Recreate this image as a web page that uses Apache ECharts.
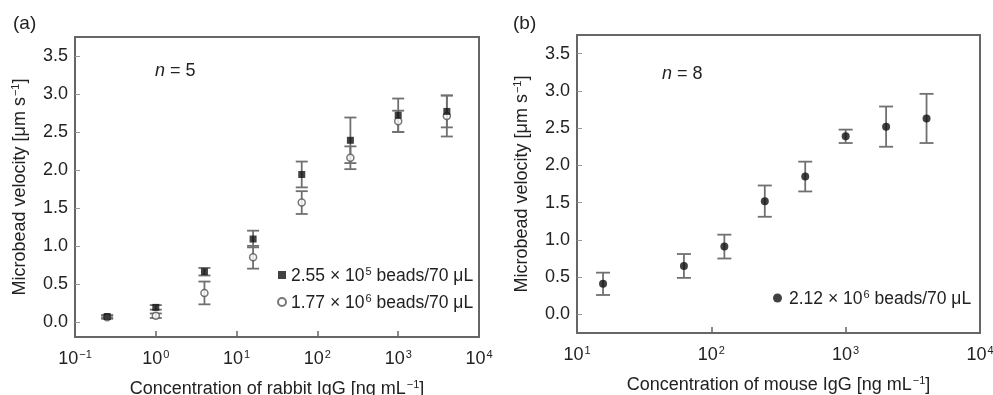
<!DOCTYPE html>
<html>
<head>
<meta charset="utf-8">
<script src="https://cdn.jsdelivr.net/npm/echarts@6/dist/echarts.min.js"></script>
<style>
html,body{margin:0;padding:0;background:#fff;}
#c{width:993px;height:395px;}
</style>
</head>
<body>
<div id="c"></div>
<script>
// ---- data ----
var rabbitConc = [0.25, 1, 4, 16, 64, 256, 1000, 4000];
var rabbitLowV = [0.07, 0.19, 0.66, 1.09, 1.94, 2.39, 2.72, 2.77];   // 2.55e5 beads
var rabbitLowErr = [0.02, 0.03, 0.05, 0.11, 0.17, 0.30, 0.22, 0.21];
var rabbitHighV = [0.06, 0.08, 0.38, 0.85, 1.57, 2.16, 2.64, 2.71];  // 1.77e6 beads
var rabbitHighErr = [0.02, 0.03, 0.15, 0.15, 0.15, 0.15, 0.14, 0.27];
var mouseConc = [15.625, 62.5, 125, 250, 500, 1000, 2000, 4000];
var mouseV = [0.41, 0.65, 0.91, 1.52, 1.85, 2.39, 2.52, 2.63];
var mouseErr = [0.15, 0.16, 0.16, 0.21, 0.20, 0.09, 0.27, 0.33];
var yTicks = [0, 0.5, 1.0, 1.5, 2.0, 2.5, 3.0, 3.5];
var xTicksA = [0.1, 1, 10, 100, 1000, 10000];
var xTicksB = [10, 100, 1000, 10000];
var nameLow = '2.55 × 10^5 beads/70 μL';
var nameHigh = '1.77 × 10^6 beads/70 μL';
var nameMouse = '2.12 × 10^6 beads/70 μL';

var FONT = 'Liberation Sans, Arial, Helvetica, sans-serif';
var FS = 18;
function richFor(fs) {
  return {
    b: {fontSize: fs, fontFamily: FONT, color: '#222', lineHeight: 20, verticalAlign: 'bottom'},
    sup: {fontSize: 11, fontFamily: FONT, color: '#222', lineHeight: 20, verticalAlign: 'bottom', padding: [0, 0, 8, 1]}
  };
}
var supRich = richFor(FS);
var legRich = richFor(17.5);

function pts(xs, ys) { return xs.map(function (x, i) { return [x, ys[i]]; }); }
function errs(xs, ys, es) { return xs.map(function (x, i) { return [x, ys[i] - es[i], ys[i] + es[i]]; }); }
function logLabel(v) {
  var e = Math.round(Math.log10(v));
  var s = e < 0 ? '−' + (-e) : '' + e;
  return '{b|10}{sup|' + s + '}';
}
function legendFmt(name) {
  var m = name.split('^');
  var rest = m[1];
  return '{b|' + m[0] + '}{sup|' + rest.charAt(0) + '}{b|' + rest.slice(1) + '}';
}
function errRender(cap) {
  return function (params, api) {
    var x = api.value(0);
    var lo = api.coord([x, api.value(1)]);
    var hi = api.coord([x, api.value(2)]);
    var st = {stroke: '#707070', lineWidth: 1.8};
    return {
      type: 'group',
      children: [
        {type: 'line', shape: {x1: lo[0], y1: lo[1], x2: hi[0], y2: hi[1]}, style: st},
        {type: 'line', shape: {x1: lo[0] - cap, y1: lo[1], x2: lo[0] + cap, y2: lo[1]}, style: st},
        {type: 'line', shape: {x1: hi[0] - cap, y1: hi[1], x2: hi[0] + cap, y2: hi[1]}, style: st}
      ]
    };
  };
}

function xAxis(grid, min, max, ticks, title) {
  return {
    type: 'log', logBase: 10, gridIndex: grid, min: min, max: max,
    axisLine: {show: false, onZero: false},
    axisTick: {show: true, inside: true, length: 6, lineStyle: {color: '#666', width: 1.5},
               customValues: ticks.slice(1, ticks.length - 1)},
    axisLabel: {margin: 11, formatter: logLabel, rich: supRich, customValues: ticks},
    splitLine: {show: false},
    name: title, nameLocation: 'middle', nameGap: 41,
    nameTextStyle: {fontSize: FS, fontFamily: FONT, color: '#222', rich: supRich}
  };
}
function yAxis(grid, min, max) {
  return {
    type: 'value', gridIndex: grid, min: min, max: max,
    axisLine: {show: false},
    axisTick: {show: true, inside: true, length: 5, lineStyle: {color: '#999', width: 1}, customValues: yTicks},
    axisLabel: {margin: 7, fontSize: FS, fontFamily: FONT, color: '#222',
                formatter: function (v) { return v.toFixed(1); }, customValues: yTicks},
    splitLine: {show: false},
    name: '{b|Microbead velocity [μm s}{sup|−1}{b|]}', nameLocation: 'middle', nameGap: 46,
    nameTextStyle: {fontSize: FS, fontFamily: FONT, color: '#222', rich: supRich}
  };
}

var chart = echarts.init(document.getElementById('c'), null, {renderer: 'canvas'});
chart.setOption({
  animation: false,
  backgroundColor: '#fff',
  grid: [
    {left: 75, top: 37, width: 404, height: 300, outerBoundsMode: 'none', containLabel: false,
     show: true, borderColor: '#666', borderWidth: 2, backgroundColor: 'transparent'},
    {left: 577, top: 35, width: 403, height: 298, outerBoundsMode: 'none', containLabel: false,
     show: true, borderColor: '#666', borderWidth: 2, backgroundColor: 'transparent'}
  ],
  xAxis: [
    xAxis(0, 0.1, 10000, xTicksA, '{b|Concentration of rabbit IgG [ng mL}{sup|−1}{b|]}'),
    xAxis(1, 10, 10000, xTicksB, '{b|Concentration of mouse IgG [ng mL}{sup|−1}{b|]}')
  ],
  yAxis: [yAxis(0, -0.2, 3.75), yAxis(1, -0.25, 3.75)],
  legend: [
    {data: [nameLow, nameHigh], orient: 'vertical', left: 272, top: 261, itemWidth: 8, itemHeight: 8, itemGap: 8,
     formatter: legendFmt, textStyle: {rich: legRich}, selectedMode: false},
    {data: [nameMouse], orient: 'vertical', left: 768, top: 284, itemWidth: 9, itemHeight: 9,
     formatter: legendFmt, textStyle: {rich: legRich, padding: [0, 0, 0, 2]}, selectedMode: false}
  ],
  graphic: [
    {type: 'text', left: 13, top: 14, style: {text: '(a)', fontSize: 19, fontFamily: FONT, fill: '#222'}},
    {type: 'text', left: 513, top: 14, style: {text: '(b)', fontSize: 19, fontFamily: FONT, fill: '#222'}},
    {type: 'text', left: 155, top: 62, style: {text: '{i|n} = 5', fontSize: 18, fontFamily: FONT, fill: '#222',
      rich: {i: {fontStyle: 'italic', fontSize: 18, fontFamily: FONT, fill: '#222'}}}},
    {type: 'text', left: 662, top: 65, style: {text: '{i|n} = 8', fontSize: 18, fontFamily: FONT, fill: '#222',
      rich: {i: {fontStyle: 'italic', fontSize: 18, fontFamily: FONT, fill: '#222'}}}}
  ],
  series: [
    {type: 'custom', xAxisIndex: 0, yAxisIndex: 0, renderItem: errRender(6), data: errs(rabbitConc, rabbitHighV, rabbitHighErr), z: 2},
    {type: 'custom', xAxisIndex: 0, yAxisIndex: 0, renderItem: errRender(6), data: errs(rabbitConc, rabbitLowV, rabbitLowErr), z: 2},
    {type: 'scatter', name: nameHigh, xAxisIndex: 0, yAxisIndex: 0, data: pts(rabbitConc, rabbitHighV),
     symbol: 'circle', symbolSize: 7, itemStyle: {color: '#fff', borderColor: '#555', borderWidth: 1.5}, z: 3},
    {type: 'scatter', name: nameLow, xAxisIndex: 0, yAxisIndex: 0, data: pts(rabbitConc, rabbitLowV),
     symbol: 'rect', symbolSize: 7, itemStyle: {color: '#111'}, z: 4},
    {type: 'custom', xAxisIndex: 1, yAxisIndex: 1, renderItem: errRender(7), data: errs(mouseConc, mouseV, mouseErr), z: 2},
    {type: 'scatter', name: nameMouse, xAxisIndex: 1, yAxisIndex: 1, data: pts(mouseConc, mouseV),
     symbol: 'circle', symbolSize: 8, itemStyle: {color: '#111'}, z: 3}
  ]
});
</script>
</body>
</html>
